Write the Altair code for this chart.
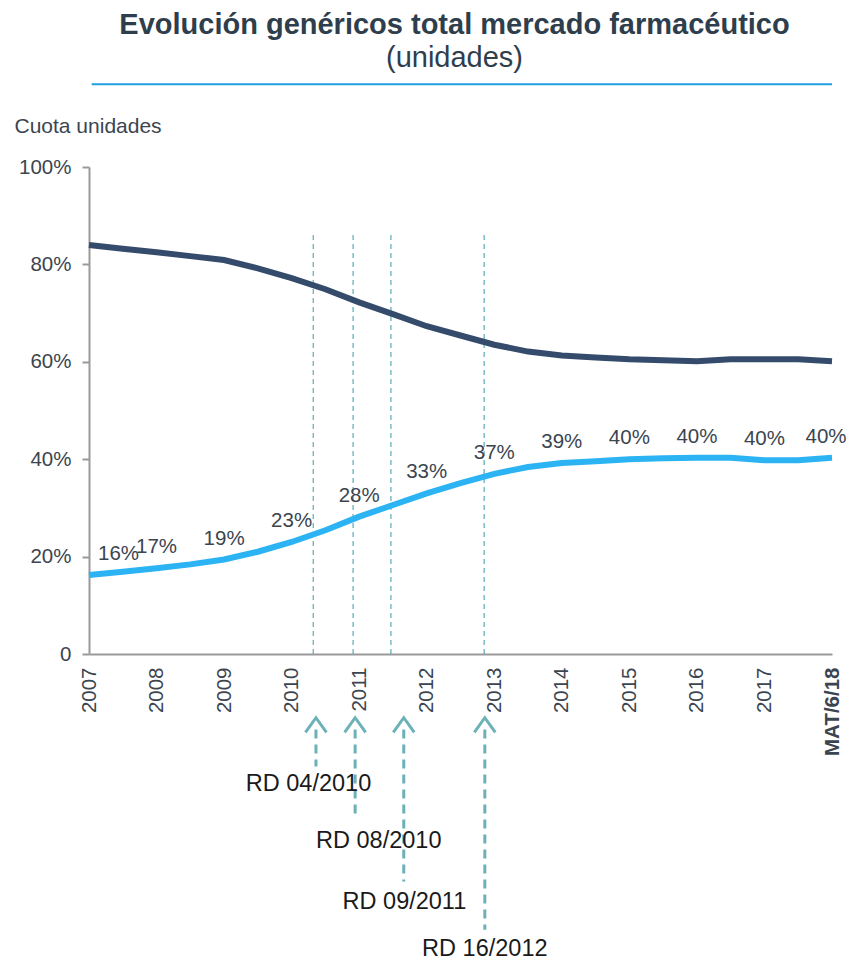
import altair as alt
import pandas as pd

# ---- data ----
years = [2007, 2007.5, 2008, 2008.5, 2009, 2009.5, 2010, 2010.5, 2011, 2011.5,
         2012, 2012.5, 2013, 2013.5, 2014, 2014.5, 2015, 2015.5, 2016, 2016.5,
         2017, 2017.5, 2018]
generic_share = [16.2, 16.9, 17.6, 18.4, 19.4, 21.0, 23.0, 25.4, 28.2, 30.6,
                 33.0, 35.1, 37.0, 38.4, 39.2, 39.6, 40.0, 40.2, 40.3, 40.3,
                 39.8, 39.8, 40.3]
brand_share = [84.0, 83.2, 82.5, 81.7, 80.9, 79.2, 77.2, 74.9, 72.2, 69.8,
               67.3, 65.4, 63.5, 62.1, 61.3, 60.9, 60.5, 60.3, 60.1, 60.5,
               60.5, 60.5, 60.1]

label_years = [2007, 2008, 2009, 2010, 2011, 2012, 2013, 2014, 2015, 2016, 2017, 2018]
label_text = ["16%", "17%", "19%", "23%", "28%", "33%", "37%", "39%", "40%", "40%", "40%", "40%"]

tick_years = list(range(2007, 2019))

rd_line_years = [2010.32, 2010.91, 2011.47, 2012.85]
rd_line_top = 86.1

arrow_years = [2010.36, 2010.94, 2011.66, 2012.86]
arrow_head_y = [-14.6, -14.6, -14.6, -14.6]
arrow_start_y = [-15.5, -15.5, -15.5, -15.5]
arrow_end_y = [-23.1, -34.0, -46.7, -56.6]
rd_label_years = [2010.25, 2011.29, 2011.67, 2012.86]
rd_label_y = [-26.6, -38.5, -50.9, -60.6]
rd_labels = ["RD 04/2010", "RD 08/2010", "RD 09/2011", "RD 16/2012"]

header_rule_x = [2007.04, 2018]
header_rule_y = 117.0

# ---- tables ----
lines_df = pd.DataFrame({
    "year": years * 2,
    "share": generic_share + brand_share,
    "serie": ["Genéricos"] * len(years) + ["Marca"] * len(years),
})
gen_lookup = dict(zip(years, generic_share))
labels_df = pd.DataFrame({
    "year": label_years,
    "share": [gen_lookup[y] for y in label_years],
    "text": label_text,
})
rd_df = pd.DataFrame({"year": rd_line_years, "y0": [0] * 4, "y1": [rd_line_top] * 4})
arrow_df = pd.DataFrame({
    "year": arrow_years, "head": arrow_head_y,
    "y0": arrow_start_y, "y1": arrow_end_y,
})
rdlab_df = pd.DataFrame({"year": rd_label_years, "y": rd_label_y, "text": rd_labels})
header_df = pd.DataFrame({"x0": [header_rule_x[0]], "x1": [header_rule_x[1]], "y": [header_rule_y]})

FONT = "Liberation Sans"
TXT = "#3b4550"

x_scale = alt.Scale(domain=[2007, 2018], nice=False, zero=False)
y_scale = alt.Scale(domain=[0, 100], nice=False, zero=False)

x_axis = alt.Axis(
    values=tick_years, format="d", labelAngle=270, ticks=False, grid=False,
    domainColor="#9a9a9a", domainWidth=2, labelPadding=13, labelFlush=False,
    labelOverlap=False, labelBound=False, labelFont=FONT, labelFontSize=20.5,
    labelColor=TXT, title=None,
    labelExpr="datum.value == 2018 ? 'MAT/6/18' : datum.label",
    labelFontWeight={"condition": {"test": "datum.value == 2018", "value": "bold"}, "value": "normal"},
)
y_axis = alt.Axis(
    values=[0, 20, 40, 60, 80, 100], grid=False, domainColor="#9a9a9a", domainWidth=2,
    tickColor="#9a9a9a", tickWidth=2, tickSize=7, labelPadding=11,
    labelFont=FONT, labelFontSize=20.5, labelColor=TXT,
    labelExpr="datum.value == 0 ? '0' : datum.value + '%'",
    title="Cuota unidades", titleAngle=0, titleAlign="left", titleBaseline="alphabetic",
    titleX=-75, titleY=-35, titleFont=FONT, titleFontSize=21, titleFontWeight="normal",
    titleColor=TXT,
)

base_x = alt.X("year:Q", scale=x_scale, axis=x_axis)

lines = alt.Chart(lines_df).mark_line(strokeWidth=6, strokeCap="butt").encode(
    x=base_x,
    y=alt.Y("share:Q", scale=y_scale, axis=y_axis),
    color=alt.Color("serie:N", scale=alt.Scale(domain=["Genéricos", "Marca"],
                                               range=["#2cb3f4", "#344b6b"]), legend=None),
)

rd_lines = alt.Chart(rd_df).mark_rule(color="#5aacb4", strokeWidth=1.2, strokeDash=[5, 4]).encode(
    x="year:Q", y="y0:Q", y2="y1:Q")

labels_main = alt.Chart(labels_df).transform_filter("datum.year > 2007 && datum.year < 2018").mark_text(
    font=FONT, fontSize=20.5, color=TXT, baseline="middle", align="center", dy=-21
).encode(x="year:Q", y="share:Q", text="text:N")
labels_first = alt.Chart(labels_df).transform_filter("datum.year == 2007").mark_text(
    font=FONT, fontSize=20.5, color=TXT, baseline="middle", align="left", dx=9, dy=-21
).encode(x="year:Q", y="share:Q", text="text:N")
labels_last = alt.Chart(labels_df).transform_filter("datum.year == 2018").mark_text(
    font=FONT, fontSize=20.5, color=TXT, baseline="middle", align="center", dx=-6, dy=-21
).encode(x="year:Q", y="share:Q", text="text:N")

shafts = alt.Chart(arrow_df).mark_rule(color="#6db1b8", strokeWidth=3, strokeDash=[9, 6]).encode(
    x="year:Q", y="y0:Q", y2="y1:Q")
heads = alt.Chart(arrow_df).mark_point(
    shape="M -1 0.7 L 0 -0.7 L 1 0.7", filled=False, color="#6db1b8",
    strokeWidth=3, size=441, opacity=1
).encode(x="year:Q", y="head:Q")
rd_text = alt.Chart(rdlab_df).mark_text(
    font=FONT, fontSize=23.5, color="#1a1a1a", baseline="middle", align="center"
).encode(x="year:Q", y="y:Q", text="text:N")

header_rule = alt.Chart(header_df).mark_rule(color="#1ea0e0", strokeWidth=2).encode(
    x="x0:Q", x2="x1:Q", y="y:Q")

chart = alt.layer(
    rd_lines, lines, labels_main, labels_first, labels_last, shafts, heads, rd_text, header_rule
).properties(
    width=743, height=487,
    padding={"left": 81, "top": 159, "right": 16, "bottom": 312},
    autosize=alt.AutoSizeParams(type="none"),
    title=alt.TitleParams(
        text="Evolución genéricos total mercado farmacéutico",
        subtitle="(unidades)",
        font=FONT, fontSize=29, fontWeight="bold", color="#2f3e4c",
        subtitleFont=FONT, subtitleFontSize=29, subtitleColor="#2f3e4c",
        subtitlePadding=4, anchor="middle", offset=10, dx=-6,
    ),
).configure_view(stroke=None)

chart.save("out.html", embed_options={"renderer": "svg", "actions": False})
